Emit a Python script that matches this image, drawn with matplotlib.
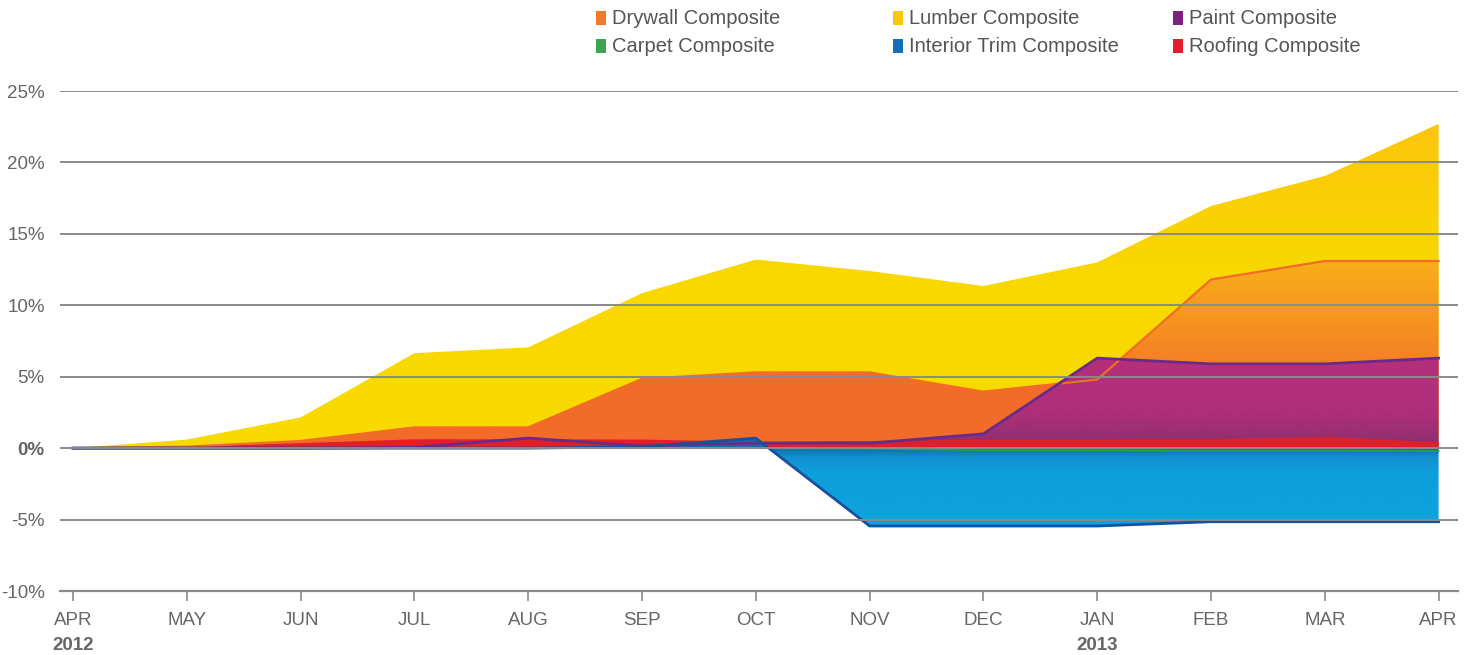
import numpy as np
import matplotlib
matplotlib.use("Agg")
import matplotlib.pyplot as plt
from matplotlib.colors import LinearSegmentedColormap, to_rgb
from matplotlib.patches import Rectangle
from matplotlib.transforms import blended_transform_factory

months = ["APR", "MAY", "JUN", "JUL", "AUG", "SEP", "OCT", "NOV", "DEC", "JAN", "FEB", "MAR", "APR"]
years = {0: "2012", 9: "2013"}

lumber = [0.0, 0.6, 2.15, 6.65, 7.05, 10.85, 13.2, 12.4, 11.35, 13.0, 16.95, 19.05, 22.7]
drywall = [0.0, 0.1, 0.5, 1.45, 1.45, 4.85, 5.3, 5.3, 3.95, 4.8, 11.8, 13.1, 13.1]
paint = [0.0, 0.0, 0.0, 0.05, 0.7, 0.15, 0.35, 0.35, 1.0, 6.3, 5.9, 5.9, 6.3]
roofing = [0.0, 0.1, 0.35, 0.62, 0.62, 0.6, 0.45, 0.5, 0.6, 0.6, 0.62, 0.78, 0.42]
carpet = [0.0, 0.0, 0.0, 0.0, 0.0, 0.0, 0.0, -0.05, -0.15, -0.15, -0.18, -0.18, -0.2]
trim = [0.0, 0.0, 0.0, 0.0, 0.0, 0.1, 0.7, -5.45, -5.45, -5.45, -5.15, -5.15, -5.15]

yticks = [-10, -5, 0, 5, 10, 15, 20, 25]

legend_rows = [
    [("Drywall Composite", '#F37A26'), ("Lumber Composite", '#F9C80E'), ("Paint Composite", '#7E2181')],
    [("Carpet Composite", '#3DA552'), ("Interior Trim Composite", '#1670B5'), ("Roofing Composite", '#E31E2A')],
]

plt.rcParams['font.family'] = ['Liberation Sans', 'DejaVu Sans']

W, H = 1473, 655
fig = plt.figure(figsize=(W / 100, H / 100), dpi=100)
ax = fig.add_axes([60 / W, 1 - 591 / H, (1458 - 60) / W, (591 - 91) / H])

x = np.arange(len(months))


def clip_image(ax, img, extent, poly, z):
    im = ax.imshow(img, extent=extent, origin='lower', aspect='auto',
                   interpolation='bilinear', zorder=z)
    im.set_clip_path(poly.get_paths()[0], ax.transData)
    return im


def vgrad(ax, xv, yv, stops, lo, hi, z):
    poly = ax.fill_between(xv, 0, yv, facecolor='none', edgecolor='none', zorder=z)
    cmap = LinearSegmentedColormap.from_list('g', stops)
    data = np.linspace(0, 1, 400).reshape(-1, 1)
    img = cmap(data)
    clip_image(ax, img, [xv[0], xv[-1], lo, hi], poly, z)


# Lumber
vgrad(ax, x, lumber, [(0, '#F8DA00'), (0.55, '#F8D800'), (1, '#FCC50D')], 0, 23, 1)

# Drywall (2D gradient)
poly_d = ax.fill_between(x, 0, drywall, facecolor='none', edgecolor='none', zorder=2)
nx, ny = 400, 300
gx = np.linspace(0, 12, nx)
gy = np.linspace(0, 13.5, ny)
left = np.array(to_rgb('#F26B28'))
rb = np.array(to_rgb('#F37A26'))
rt = np.array(to_rgb('#F9AE1A'))
ty = np.clip((gy - 5) / 8.0, 0, 1)[:, None, None]
right_col = rb * (1 - ty) + rt * ty
w = np.clip((gx - 8.9) / 0.3, 0, 1)[None, :, None]
img_d = left[None, None, :] * (1 - w) + right_col * w
clip_image(ax, img_d, [0, 12, 0, 13.5], poly_d, 2)

# Paint
vgrad(ax, x, paint, [(0, '#8A2F6E'), (0.4, '#B02F79'), (1, '#B5307A')], 0, 6.5, 3)

# Roofing
ax.fill_between(x, 0, roofing, facecolor='#E11F2B', edgecolor='none', zorder=4)

# Carpet
ax.fill_between(x, 0, carpet, facecolor='#2E9E4A', edgecolor='none', zorder=5)

# Interior trim
vgrad(ax, x, trim, [(0, '#0EA3DE'), (0.6, '#0E9FDB'), (0.78, '#1290CF'),
                    (0.873, '#0F6DB0'), (1, '#0F6DB0')], -5.5, 0.8, 6)

# Edge lines
ax.plot(x, drywall, color='#F26B28', lw=1.6, zorder=7)
ax.plot(x, paint, color='#6A2A8A', lw=2.0, zorder=8)
ax.plot(x, trim, color='#1C4E9A', lw=2.0, zorder=9)
ax.plot(x, carpet, color='#2E9E4A', lw=1.2, zorder=9)

# gridlines on top
for yv in yticks[1:]:
    ax.axhline(yv, color='#8A8A8A', lw=1.4, zorder=10)

ax.set_xlim(-13 / 113.8, (1458 - 73) / 113.8)
ax.set_ylim(-10, 25)

for s in ['top', 'right', 'left']:
    ax.spines[s].set_visible(False)
ax.spines['bottom'].set_color('#8A8A8A')
ax.spines['bottom'].set_linewidth(1.6)
ax.spines['bottom'].set_zorder(11)

ax.set_xticks(x)
ax.set_xticklabels(months)
ax.tick_params(axis='x', length=7, width=1.2, color='#8A8A8A', pad=8,
               labelsize=13.5, labelcolor='#666666')
ax.set_yticks(yticks)
ax.set_yticklabels([f"{v}%" for v in yticks])
ax.tick_params(axis='y', length=0, pad=11, labelsize=13.5, labelcolor='#666666')
for lab in ax.get_yticklabels():
    if lab.get_text() == '0%':
        lab.set_fontweight('bold')

trans = blended_transform_factory(ax.transData, fig.transFigure)
for i, yr in years.items():
    ax.text(i, 1 - 645 / H, yr, transform=trans, ha='center', va='center',
            fontsize=13.5, fontweight='bold', color='#666666')

# Manual legend
col_x = [596, 893, 1173]
row_y = [18, 46]
for r, row in enumerate(legend_rows):
    for c, (lab, col) in enumerate(row):
        px, py = col_x[c], row_y[r]
        fig.patches.append(Rectangle((px / W, 1 - (py + 7) / H), 10 / W, 14 / H,
                                     transform=fig.transFigure, facecolor=col,
                                     edgecolor='none'))
        fig.text((px + 16) / W, 1 - (py + 1) / H, lab, ha='left', va='center',
                 fontsize=14.5, color='#555555')

fig.savefig('out.png', dpi=100)
